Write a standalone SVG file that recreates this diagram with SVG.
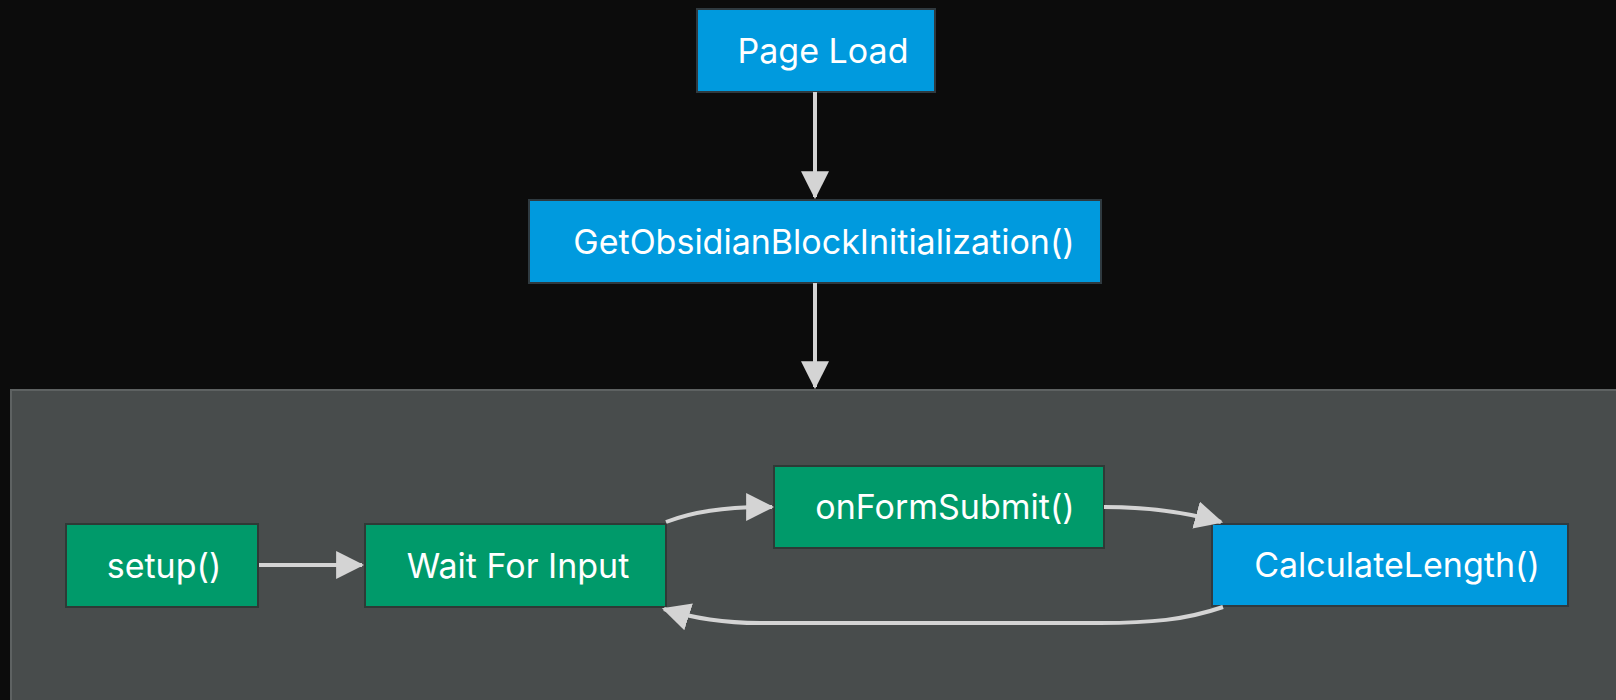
<svg xmlns="http://www.w3.org/2000/svg" width="1616" height="700" viewBox="0 0 1616 700">
<style>
.bg{fill:#0c0c0c}
.cluster{fill:#484c4c;stroke:#5e6262;stroke-width:2}
.blue{fill:#009ade;stroke:#2f3a40;stroke-width:2}
.green{fill:#009a6a;stroke:#2e3a36;stroke-width:2}
.lbl{font-family:Inter,"Noto Sans",sans-serif;font-size:34px;fill:#ffffff;text-anchor:middle}
.edge{fill:none;stroke:#d4d4d4;stroke-width:4}
</style>
<defs>
<marker id="arr" markerUnits="userSpaceOnUse" markerWidth="28" markerHeight="28" viewBox="0 0 26 26" refX="24" refY="13" orient="auto">
<path d="M0,0 L26,13 L0,26 z" fill="#d4d4d4"/>
</marker>
</defs>
<rect class="bg" x="0" y="0" width="1616" height="700"/>
<g id="cluster">
<rect class="cluster" x="11" y="390" width="1620" height="330"/>
</g>
<g id="pageload">
<rect class="blue" x="697" y="9" width="238" height="83"/>
<text class="lbl" x="823" y="63">Page Load</text>
</g>
<g id="getobsidian">
<rect class="blue" x="529" y="200" width="572" height="83"/>
<text class="lbl" x="824" y="254">GetObsidianBlockInitialization()</text>
</g>
<g id="setup">
<rect class="green" x="66" y="524" width="192" height="83"/>
<text class="lbl" x="164" y="578">setup()</text>
</g>
<g id="waitforinput">
<rect class="green" x="365" y="524" width="301" height="83"/>
<text class="lbl" x="518" y="578">Wait For Input</text>
</g>
<g id="onformsubmit">
<rect class="green" x="774" y="466" width="330" height="82"/>
<text class="lbl" x="945" y="519">onFormSubmit()</text>
</g>
<g id="calculatelength">
<rect class="blue" x="1212" y="524" width="356" height="82"/>
<text class="lbl" x="1397" y="577">CalculateLength()</text>
</g>
<g id="connectors">
<path class="edge" d="M815,92 L815,197" marker-end="url(#arr)"/>
<path class="edge" d="M815,283 L815,387" marker-end="url(#arr)"/>
<path class="edge" d="M259,565 L362,565" marker-end="url(#arr)"/>
<path class="edge" d="M666,522 C692,512 722,507 772,507" marker-end="url(#arr)"/>
<path class="edge" d="M1104,507 C1150,507 1185,512 1221,522" marker-end="url(#arr)"/>
<path class="edge" d="M1223,607 C1185,620 1150,623 1100,623 L760,623 C720,623 692,618 664,609" marker-end="url(#arr)"/>
</g>
</svg>
